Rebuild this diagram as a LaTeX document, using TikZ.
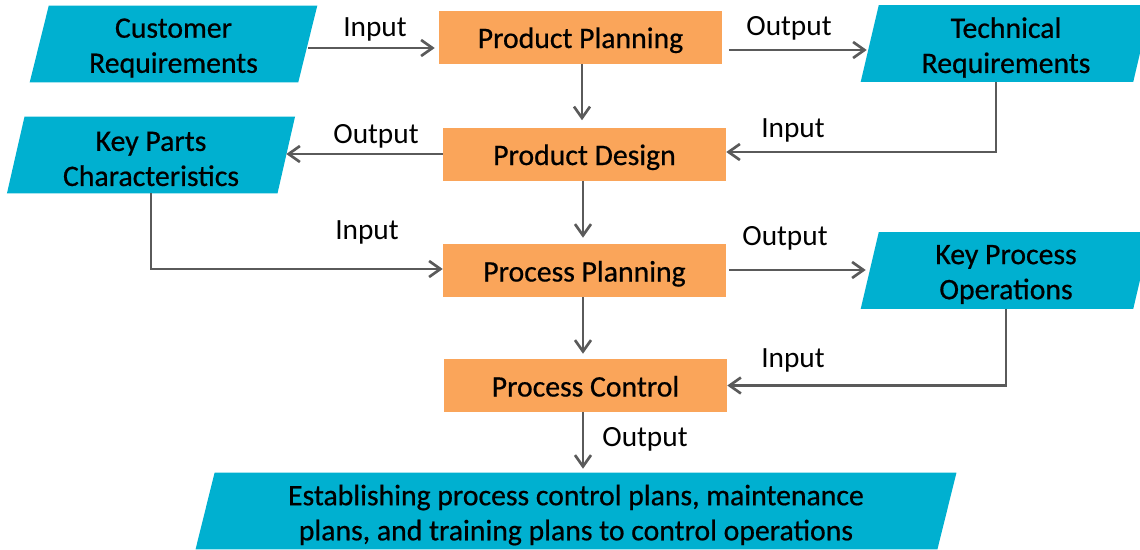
\documentclass[tikz,border=0pt]{standalone}
\usepackage{fontspec}
\setmainfont{Carlito}
\newfontfamily\boxfont{Carlito}[FakeBold=0.6]
\usetikzlibrary{arrows.meta,calc,backgrounds}
\definecolor{boxorange}{HTML}{FAA55A}
\definecolor{datacyan}{HTML}{00B0D0}
\definecolor{linegray}{HTML}{5A5A5A}
\begin{document}
\begin{tikzpicture}[x=0.75pt,y=-0.75pt,
  stage/.style={fill=boxorange, minimum width=212.25pt, minimum height=39.75pt,
    inner sep=0pt, text height=22pt, text depth=5.5pt,
    font=\boxfont\fontsize{22.3}{26.3}\selectfont},
  data/.style={minimum height=57pt, inner sep=0pt,
    label={[datatext]center:#1}},
  datatext/.style={align=center, inner sep=0pt, yshift=-3pt,
    font=\boxfont\fontsize{22.3}{26.3}\selectfont},
  lbl/.style={font=\fontsize{22}{26}\selectfont, anchor=base, inner sep=0pt},
  flow/.style={draw=linegray, line width=2pt,
    -{Straight Barb[length=8.5pt,width=12pt]}}
]
\useasboundingbox (0,0) rectangle (1140,550);

% process stages
\node[stage] (pp)  at (580.5,37)  {Product Planning};
\node[stage] (pd)  at (584.5,154) {Product Design};
\node[stage] (prp) at (584.5,270.5) {Process Planning};
\node[stage] (pc)  at (585.5,385.5) {Process Control};

% data items (parallelograms filled on the background layer)
\node[data={Customer\\Requirements}, minimum width=201pt]     (cr)  at (173.5,44)  {};
\node[data={Key Parts\\Characteristics}, minimum width=202.5pt] (kp)  at (151,155) {};
\node[data={Technical\\Requirements}, minimum width=204pt]    (tr)  at (1006,43.5) {};
\node[data={Key Process\\Operations}, minimum width=204pt]    (kpo) at (1006,270.5) {};
\node[data={{Establishing process control plans, maintenance\\plans, and training plans to control operations}},
  minimum width=556pt, datatext/.append style={font=\boxfont\fontsize{22.7}{27.75}\selectfont}]
  (plans) at (576,511) {};

\begin{scope}[on background layer]
  \clip (0,0) rectangle (1140,550);
  \foreach \n/\s in {cr/9.5, kp/8.75, tr/9, kpo/9, plans/9.5}
    \fill[datacyan] ($(\n.north west)+(\s,0)$) -- ($(\n.north east)+(\s,0)$)
      -- ($(\n.south east)+(-\s,0)$) -- ($(\n.south west)+(-\s,0)$) -- cycle;
\end{scope}

% main chain
\draw[flow] ($(pp.south)+(1.5,0)$)  -- ($(pd.north)+(-2.5,-7)$);
\draw[flow] ($(pd.south)+(-1.5,0)$) -- ($(prp.north)+(-1.5,-6)$);
\draw[flow] ($(prp.south)+(-1.5,0)$) -- ($(pc.north)+(-2.5,-5)$);
\draw[flow] ($(pc.south)+(-2.5,0)$) -- ($(plans.north)+(7,-4)$);

% inputs and outputs
\draw[flow] ($(cr.east)+(0,4)$) -- ($(pp.west)+(-4,11)$);
\draw[flow] ($(pp.east)+(7,13)$) -- ($(tr.west)+(-3,6.5)$);
\draw[flow] ($(tr.south)+(-10,0)$) |- ($(pd.east)+(0,-2)$);
\draw[flow] (pd.west) -- (pd.west -| kp.east);
\draw[flow] (kp.south) |- ($(prp.west)+(0,-1.5)$);
\draw[flow] ($(prp.east)+(3,-0.5)$) -- ($(kpo.west)+(-4,-0.5)$);
\draw[flow] (kpo.south) |- (pc.east);

% connector labels
\node[lbl] (l1) at (375,36)  {Input};
\node[lbl] (l2) at (789,35)  {Output};
\node[lbl] (l3) at (793,137) {Input};
\node[lbl] (l4) at (376,143) {Output};
\node[lbl] (l5) at (367,239) {Input};
\node[lbl] (l6) at (785,245) {Output};
\node[lbl] (l7) at (793,367) {Input};
\node[lbl] (l8) at (645,446) {Output};
\end{tikzpicture}
\end{document}
